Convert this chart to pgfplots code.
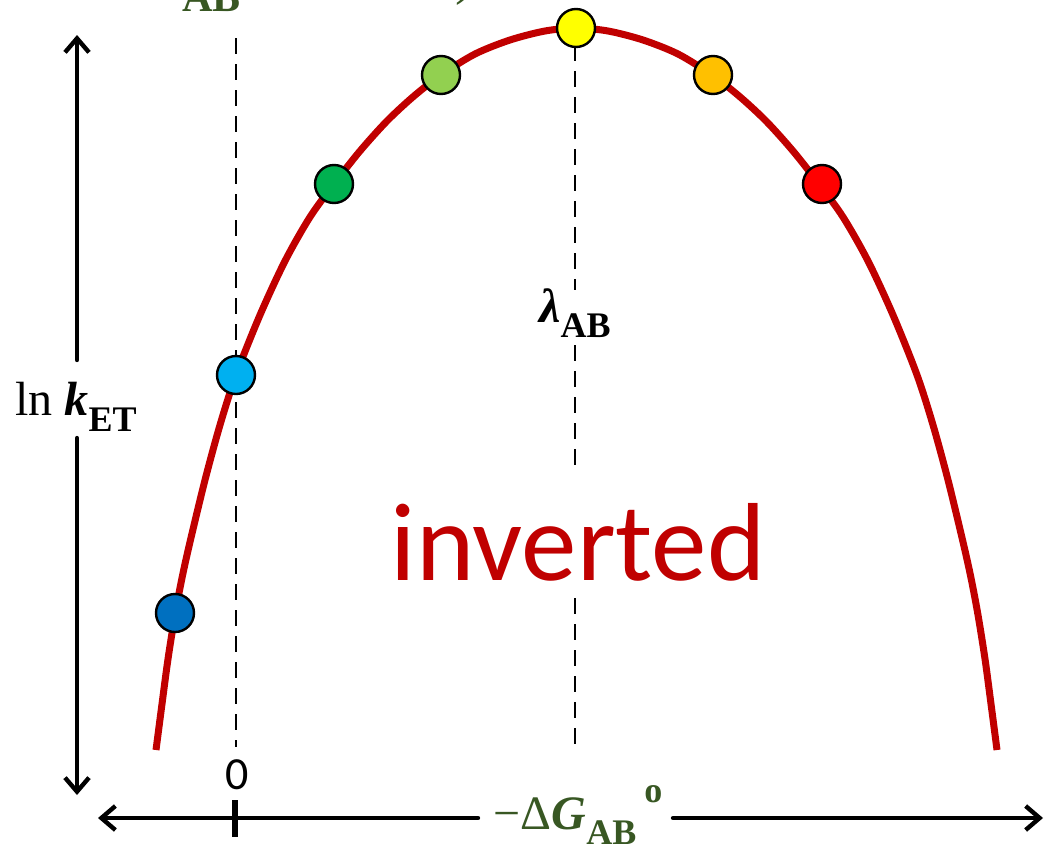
\documentclass[border=0pt]{standalone}
\usepackage{pgfplots}
\pgfplotsset{compat=1.18}
\usepackage{graphicx}
\usepackage{fontspec}
\setmainfont{Carlito}
\newfontfamily\mserif{Liberation Serif}
\usetikzlibrary{arrows.meta}

\definecolor{curvered}{HTML}{C00000}
\definecolor{mblue}{HTML}{0070C0}
\definecolor{mcyan}{HTML}{00B0F0}
\definecolor{mgreen}{HTML}{00B050}
\definecolor{mlime}{HTML}{92D050}
\definecolor{myellow}{HTML}{FFFF00}
\definecolor{morange}{HTML}{FFC000}
\definecolor{mred}{HTML}{FF0000}
\definecolor{labgreen}{HTML}{385723}

% subscript / superscript helpers for the serif labels
\newcommand{\lsub}[1]{\raisebox{-0.32em}{\scalebox{0.75}{#1}}}
\newcommand{\lsup}[1]{\raisebox{0.55em}{\scalebox{0.75}{#1}}}
\newcommand{\dG}{{\mserif −Δ\textbf{\textit{G}}\lsub{\textbf{AB}}\,\lsup{\textbf{o}}}}

\begin{document}
\begin{tikzpicture}
\begin{axis}[
  x=0.5pt, y=0.5pt,
  xmin=0, xmax=1048, ymin=0, ymax=843,
  hide axis, clip=false,
  anchor=origin, at={(0,0)},
]
\coordinate (bl) at (axis cs:0,0);
\coordinate (tr) at (axis cs:1048,843);

% reference lines at -dG = 0 and -dG = lambda
\addplot[black, line width=1pt, dash pattern=on 8pt off 5pt] coordinates {(236,805) (236,96)};
\addplot[black, line width=1pt, dash pattern=on 8pt off 5pt] coordinates {(575,798) (575,553)};
\addplot[black, line width=1pt, dash pattern=on 8pt off 5pt] coordinates {(575,498) (575,373)};
\addplot[black, line width=1pt, dash pattern=on 8pt off 5pt] coordinates {(575,245) (575,93)};

% Marcus curve
\addplot[curvered, line width=3.5pt, smooth] coordinates {
  (156,93) (162,139) (168,184) (175,228) (182,265) (190,301) (205,363)
  (220,418) (236,468) (260,528) (285,582) (310,626) (334,659) (360,692)
  (387,722) (414,747) (441,768) (475,789) (510,803) (545,812) (576,815)
  (608,812) (643,803) (678,789) (712,768) (739,747) (766,722) (793,692)
  (819,659) (843,626) (868,582) (893,528) (917,468) (933,418) (948,363)
  (963,301) (971,265) (978,228) (985,184) (991,139) (997,93)
};

% individual rate points
\pgfplotsset{dot/.style={only marks, mark=*, mark size=9.5pt,
  mark options={fill=#1, draw=black, line width=1.2pt}}}
\addplot[dot=mblue]   coordinates {(175,230)};
\addplot[dot=mcyan]   coordinates {(236,468)};
\addplot[dot=mgreen]  coordinates {(334,659)};
\addplot[dot=mlime]   coordinates {(441,768)};
\addplot[dot=myellow] coordinates {(576,815)};
\addplot[dot=morange] coordinates {(713,768)};
\addplot[dot=mred]    coordinates {(822,659)};

% axes drawn as arrows
\draw[line width=2.2pt, line cap=round, -{Straight Barb[length=7pt,width=12pt]}]
  (axis cs:77,483) -- (axis cs:77,808);
\draw[line width=2.2pt, line cap=round, -{Straight Barb[length=7pt,width=12pt]}]
  (axis cs:77,405) -- (axis cs:77,48);
\draw[line width=2.2pt, line cap=round, -{Straight Barb[length=7pt,width=12pt]}]
  (axis cs:478,25) -- (axis cs:98,25);
\draw[line width=2.2pt, line cap=round, -{Straight Barb[length=7pt,width=12pt]}]
  (axis cs:673,25) -- (axis cs:1043,25);
\draw[line width=3pt] (axis cs:235,43) -- (axis cs:235,6);

% labels
\node[font=\fontsize{23}{26}\selectfont] at (axis cs:237,68) {0};
\node[font=\fontsize{24}{28}\selectfont] at (axis cs:76,436)
  {{\mserif ln \textbf{\textit{k}}\lsub{\textbf{ET}}}};
\node[font=\fontsize{24}{28}\selectfont, anchor=base] at (axis cs:575,521)
  {{\mserif\textbf{\textit{λ}}\lsub{\textbf{AB}}}};
\node[font=\fontsize{24}{28}\selectfont, text=labgreen, anchor=base] at (axis cs:578,14) {\dG};
\node[font=\fontsize{55.5}{60}\selectfont, text=curvered, anchor=base] at (axis cs:578,263) {inverted};
\node[font=\fontsize{28}{32}\selectfont, text=labgreen, anchor=base west, inner sep=0pt] at (axis cs:74,849)
  {{\mserif −Δ\textbf{\textit{G}}\lsub{\textbf{AB}}\lsup{\textbf{o}}\hspace{0.4em}=\hspace{0.4em}0\hspace{1.6em})}};
\end{axis}
\pgfresetboundingbox
\useasboundingbox (bl) rectangle (tr);
\end{tikzpicture}
\end{document}
